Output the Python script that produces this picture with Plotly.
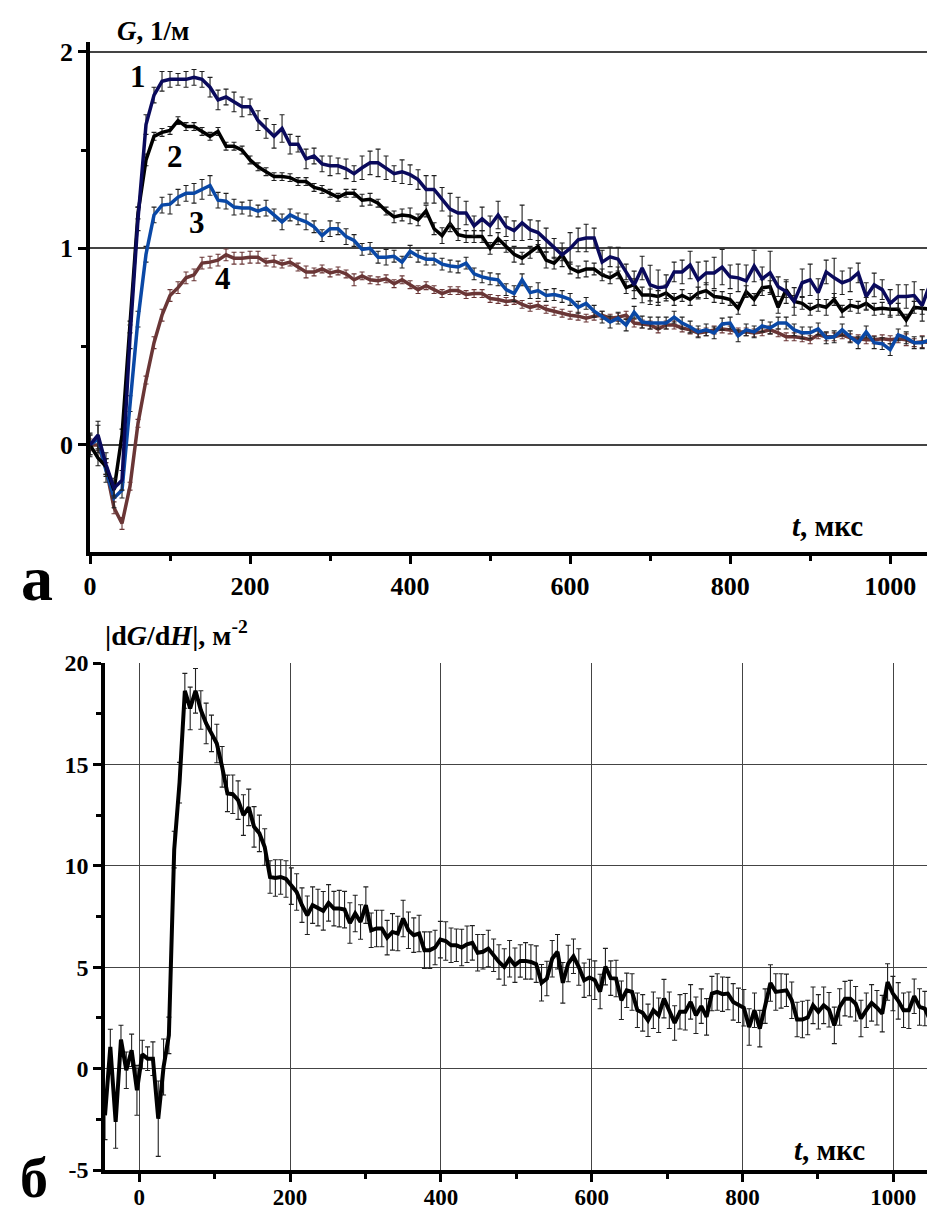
import plotly.graph_objects as go

# ---------------- data: panel a (G, 1/m vs t, us) ----------------
t_a = list(range(0, 1060, 10))

G1 = [0.0, 0.05, -0.10, -0.22, -0.18, 0.55, 1.15, 1.63, 1.78, 1.85,
      1.86, 1.86, 1.86, 1.87, 1.86, 1.82, 1.755, 1.77, 1.745, 1.72,
      1.72, 1.65, 1.61, 1.57, 1.61, 1.53, 1.53, 1.455, 1.47, 1.43,
      1.42, 1.42, 1.405, 1.38, 1.41, 1.435, 1.435, 1.41, 1.38, 1.39,
      1.375, 1.35, 1.30, 1.30, 1.25, 1.20, 1.18, 1.18, 1.115, 1.15,
      1.115, 1.17, 1.11, 1.09, 1.13, 1.095, 1.08, 1.043, 1.00, 0.967,
      1.00, 1.043, 1.053, 1.053, 0.93, 0.957, 0.945, 0.88, 0.814, 0.90,
      0.814, 0.80, 0.805, 0.88, 0.88, 0.915, 0.84, 0.875, 0.875, 0.905,
      0.855, 0.85, 0.835, 0.91, 0.845, 0.875, 0.805, 0.78, 0.73, 0.825,
      0.84, 0.775, 0.88, 0.85, 0.825, 0.84, 0.875, 0.755, 0.814, 0.79,
      0.72, 0.755, 0.755, 0.76, 0.71, 0.82]
E1 = [0.06, 0.07, 0.06, 0.05, 0.05, 0.06, 0.06, 0.05, 0.04, 0.05,
      0.04, 0.03, 0.04, 0.04, 0.04, 0.05, 0.05, 0.04, 0.05, 0.05,
      0.04, 0.05, 0.05, 0.06, 0.07, 0.05, 0.04, 0.05, 0.04, 0.04,
      0.05, 0.04, 0.05, 0.04, 0.06, 0.06, 0.07, 0.06, 0.04, 0.06,
      0.05, 0.05, 0.07, 0.07, 0.06, 0.08, 0.08, 0.06, 0.05, 0.06,
      0.05, 0.07, 0.05, 0.05, 0.09, 0.05, 0.06, 0.06, 0.05, 0.06,
      0.08, 0.06, 0.07, 0.05, 0.06, 0.05, 0.06, 0.04, 0.07, 0.06,
      0.10, 0.09, 0.06, 0.05, 0.06, 0.07, 0.09, 0.06, 0.08, 0.09,
      0.06, 0.07, 0.08, 0.08, 0.06, 0.11, 0.05, 0.06, 0.07, 0.07,
      0.08, 0.07, 0.06, 0.10, 0.06, 0.06, 0.05, 0.07, 0.06, 0.05,
      0.07, 0.06, 0.06, 0.07, 0.08, 0.06]

G2 = [0.0, -0.066, -0.11, -0.23, 0.05, 0.60, 1.18, 1.45, 1.57, 1.59,
      1.60, 1.65, 1.62, 1.62, 1.595, 1.57, 1.595, 1.52, 1.52, 1.50,
      1.45, 1.415, 1.39, 1.365, 1.365, 1.36, 1.34, 1.34, 1.31, 1.30,
      1.28, 1.26, 1.28, 1.28, 1.245, 1.25, 1.23, 1.19, 1.16, 1.17,
      1.165, 1.145, 1.19, 1.10, 1.065, 1.125, 1.07, 1.06, 1.06, 1.06,
      1.00, 1.05, 1.01, 0.97, 0.95, 0.98, 1.01, 0.94, 0.925, 0.967,
      0.90, 0.88, 0.895, 0.895, 0.865, 0.85, 0.875, 0.80, 0.815, 0.763,
      0.763, 0.755, 0.773, 0.74, 0.76, 0.74, 0.773, 0.785, 0.755, 0.75,
      0.74, 0.695, 0.78, 0.74, 0.80, 0.805, 0.70, 0.79, 0.73, 0.72,
      0.69, 0.71, 0.70, 0.74, 0.68, 0.71, 0.70, 0.72, 0.69, 0.695,
      0.69, 0.69, 0.635, 0.70, 0.695, 0.69]
E2 = [0.05, 0.04, 0.04, 0.03, 0.03, 0.03, 0.03, 0.03, 0.02, 0.02,
      0.02, 0.02, 0.02, 0.02, 0.02, 0.02, 0.02, 0.02, 0.02, 0.02,
      0.02, 0.02, 0.02, 0.02, 0.02, 0.02, 0.02, 0.02, 0.02, 0.02,
      0.02, 0.02, 0.02, 0.02, 0.03, 0.03, 0.02, 0.02, 0.03, 0.03,
      0.04, 0.03, 0.03, 0.03, 0.04, 0.04, 0.03, 0.03, 0.03, 0.03,
      0.03, 0.03, 0.03, 0.04, 0.03, 0.03, 0.03, 0.04, 0.03, 0.03,
      0.03, 0.03, 0.04, 0.03, 0.03, 0.03, 0.03, 0.03, 0.03, 0.04,
      0.03, 0.03, 0.04, 0.03, 0.03, 0.03, 0.03, 0.04, 0.03, 0.03,
      0.03, 0.03, 0.03, 0.03, 0.04, 0.03, 0.03, 0.04, 0.03, 0.03,
      0.03, 0.03, 0.04, 0.03, 0.03, 0.03, 0.03, 0.03, 0.03, 0.03,
      0.03, 0.03, 0.03, 0.03, 0.03, 0.03]

G3 = [0.0, 0.03, -0.13, -0.27, -0.23, 0.21, 0.64, 0.97, 1.17, 1.22,
      1.225, 1.26, 1.28, 1.28, 1.30, 1.32, 1.245, 1.24, 1.21, 1.205,
      1.205, 1.19, 1.205, 1.17, 1.135, 1.17, 1.15, 1.135, 1.11, 1.065,
      1.10, 1.10, 1.06, 1.04, 0.995, 1.00, 0.955, 0.955, 0.96, 0.93,
      0.985, 0.96, 0.945, 0.945, 0.92, 0.91, 0.905, 0.925, 0.87, 0.855,
      0.845, 0.84, 0.79, 0.77, 0.84, 0.775, 0.785, 0.76, 0.765, 0.755,
      0.74, 0.70, 0.72, 0.68, 0.65, 0.625, 0.645, 0.61, 0.675, 0.625,
      0.62, 0.62, 0.62, 0.65, 0.62, 0.60, 0.575, 0.585, 0.57, 0.615,
      0.62, 0.555, 0.585, 0.575, 0.605, 0.595, 0.62, 0.62, 0.585, 0.57,
      0.57, 0.59, 0.545, 0.55, 0.585, 0.55, 0.52, 0.575, 0.52, 0.515,
      0.485, 0.56, 0.545, 0.52, 0.52, 0.535]
E3 = [0.05, 0.07, 0.06, 0.05, 0.04, 0.04, 0.04, 0.04, 0.04, 0.04,
      0.05, 0.04, 0.04, 0.05, 0.05, 0.05, 0.04, 0.04, 0.04, 0.03,
      0.04, 0.03, 0.04, 0.03, 0.04, 0.03, 0.03, 0.04, 0.03, 0.03,
      0.04, 0.03, 0.04, 0.03, 0.03, 0.03, 0.03, 0.04, 0.03, 0.03,
      0.03, 0.03, 0.03, 0.03, 0.03, 0.03, 0.03, 0.03, 0.03, 0.03,
      0.03, 0.03, 0.03, 0.04, 0.03, 0.03, 0.04, 0.03, 0.03, 0.03,
      0.03, 0.03, 0.03, 0.03, 0.03, 0.03, 0.03, 0.03, 0.03, 0.03,
      0.03, 0.03, 0.03, 0.03, 0.03, 0.03, 0.03, 0.03, 0.03, 0.03,
      0.03, 0.03, 0.03, 0.03, 0.03, 0.03, 0.03, 0.03, 0.03, 0.03,
      0.03, 0.03, 0.03, 0.03, 0.03, 0.03, 0.03, 0.03, 0.03, 0.03,
      0.03, 0.03, 0.03, 0.03, 0.03, 0.03]

G4 = [0.0, 0.0, -0.12, -0.32, -0.40, -0.21, 0.11, 0.33, 0.52, 0.66,
      0.76, 0.80, 0.85, 0.865, 0.925, 0.93, 0.94, 0.967, 0.95, 0.95,
      0.955, 0.955, 0.93, 0.935, 0.92, 0.93, 0.905, 0.88, 0.88, 0.895,
      0.875, 0.885, 0.87, 0.84, 0.86, 0.84, 0.835, 0.845, 0.82, 0.84,
      0.815, 0.79, 0.81, 0.79, 0.77, 0.785, 0.785, 0.765, 0.77, 0.77,
      0.745, 0.74, 0.73, 0.735, 0.715, 0.70, 0.71, 0.69, 0.68, 0.67,
      0.66, 0.655, 0.645, 0.655, 0.66, 0.645, 0.65, 0.66, 0.62, 0.615,
      0.61, 0.59, 0.61, 0.61, 0.595, 0.585, 0.57, 0.575, 0.585, 0.59,
      0.585, 0.575, 0.575, 0.57, 0.575, 0.585, 0.57, 0.55, 0.55, 0.545,
      0.535, 0.56, 0.55, 0.55, 0.56, 0.545, 0.54, 0.535, 0.535, 0.54,
      0.535, 0.54, 0.535, 0.52, 0.525, 0.52]
E4 = [0.03, 0.03, 0.03, 0.03, 0.03, 0.02, 0.02, 0.02, 0.03, 0.03,
      0.03, 0.03, 0.03, 0.03, 0.03, 0.03, 0.03, 0.03, 0.03, 0.03,
      0.03, 0.03, 0.02, 0.03, 0.02, 0.02, 0.02, 0.03, 0.02, 0.02,
      0.02, 0.02, 0.02, 0.03, 0.02, 0.02, 0.02, 0.02, 0.02, 0.02,
      0.02, 0.02, 0.02, 0.02, 0.02, 0.02, 0.02, 0.02, 0.02, 0.02,
      0.02, 0.02, 0.02, 0.02, 0.02, 0.02, 0.02, 0.02, 0.02, 0.02,
      0.02, 0.02, 0.02, 0.02, 0.02, 0.02, 0.02, 0.02, 0.02, 0.02,
      0.02, 0.02, 0.02, 0.02, 0.02, 0.02, 0.02, 0.02, 0.02, 0.02,
      0.02, 0.02, 0.02, 0.02, 0.02, 0.02, 0.02, 0.02, 0.02, 0.02,
      0.02, 0.02, 0.02, 0.02, 0.02, 0.02, 0.02, 0.02, 0.02, 0.02,
      0.02, 0.02, 0.03, 0.02, 0.03, 0.02]

# ---------------- data: panel b (|dG/dH|, m^-2 vs t, us) ----------------
T_B_START = -45.5
T_B_STEP = 7.06
dGdH = [-2.3, 1.07, -2.63, 1.43, -0.08, 0.9, -1.07, 0.7, 0.49, 0.49,
        -2.47, 0.08, 1.64, 10.8, 14.1, 18.63, 17.76, 18.63, 17.68, 17.02,
        16.53, 16.03, 14.88, 13.57, 13.53, 13.24, 12.5, 12.88, 11.92, 11.6,
        10.93, 9.45, 9.4, 9.45, 9.35, 9.0, 8.71, 8.06, 7.56, 8.06,
        7.94, 7.78, 8.17, 7.89, 7.89, 7.84, 7.18, 7.65, 7.23, 8.06,
        6.82, 6.91, 6.91, 6.46, 6.74, 6.66, 7.40, 6.82, 6.58, 6.66,
        5.84, 5.84, 5.97, 6.36, 6.29, 6.08, 6.08, 5.97, 6.13, 6.2,
        5.71, 5.76, 5.92, 5.59, 5.26, 5.01, 5.42, 5.1, 5.31, 5.31,
        5.26, 5.15, 4.23, 4.44, 5.42, 5.76, 4.23, 5.18, 5.54, 5.01,
        4.36, 4.49, 4.36, 3.8, 5.03, 4.46, 4.44, 3.37, 3.86, 3.78,
        2.88, 2.75, 2.38, 2.88, 2.63, 3.45, 2.88, 2.25, 2.8, 2.8,
        3.29, 2.63, 3.08, 2.55, 3.7, 3.78, 3.67, 3.7, 3.29, 3.12,
        3.0, 2.05, 2.88, 1.97, 3.08, 4.22, 3.78, 3.83, 3.86, 3.37,
        2.42, 2.42, 2.52, 3.12, 2.8, 3.12, 2.9, 2.13, 3.04, 3.45,
        3.45, 3.2, 2.47, 2.88, 3.24, 3.0, 2.71, 4.27, 3.7, 3.34,
        2.88, 2.88, 3.57, 3.04, 2.96, 2.38]
dGdH_err = [1.2, 0.87, 1.3, 0.71, 0.9, 0.8, 1.23, 0.7, 0.58, 0.83,
            1.86, 1.38, 0.9, 0.9, 1.0, 0.86, 1.05, 1.1, 0.95, 1.0,
            0.9, 0.95, 1.0, 0.9, 0.95, 0.95, 1.0, 0.9, 1.0, 0.9,
            0.9, 0.8, 0.9, 0.85, 0.9, 0.9, 0.9, 0.85, 0.95, 0.9,
            0.9, 0.95, 0.9, 0.85, 0.9, 0.9, 1.0, 0.9, 0.85, 0.9,
            0.85, 0.9, 0.9, 0.85, 0.9, 0.85, 0.9, 0.9, 0.85, 0.9,
            0.9, 0.9, 0.85, 0.9, 0.95, 0.85, 0.8, 0.9, 0.9, 0.85,
            0.9, 0.85, 0.9, 0.8, 0.85, 0.9, 0.9, 0.85, 0.8, 0.9,
            0.85, 0.9, 0.9, 0.85, 0.9, 0.85, 1.0, 0.9, 0.85, 0.9,
            0.85, 0.9, 0.95, 0.85, 0.9, 0.85, 0.9, 0.95, 0.85, 0.9,
            0.85, 0.9, 0.8, 0.9, 0.85, 0.95, 0.9, 0.85, 0.85, 0.9,
            0.85, 0.9, 0.85, 0.9, 0.85, 0.9, 0.85, 0.8, 0.9, 0.85,
            0.9, 0.9, 0.85, 0.9, 0.85, 0.9, 0.9, 0.85, 0.8, 0.9,
            0.85, 0.9, 0.85, 0.9, 0.85, 0.9, 0.85, 0.9, 0.9, 0.85,
            0.9, 0.85, 0.9, 0.85, 0.9, 0.85, 0.9, 0.9, 0.85, 0.9,
            0.85, 0.9, 0.85, 0.9, 0.85, 0.9]
t_b = [round(T_B_START + T_B_STEP * k, 2) for k in range(len(dGdH))]

# tick labels
xa_ticks = [0, 200, 400, 600, 800, 1000]
ya_ticks = [0, 1, 2]
xb_ticks = [0, 200, 400, 600, 800, 1000]
yb_ticks = [-5, 0, 5, 10, 15, 20]
yb_ticktext = ["-5", "0", "5", "10", "15", "20"]

# ---------------- figure ----------------
W, H = 927, 1213
SERIF = "Liberation Serif"
NAVY, BLACK, BLUE, BROWN = "#0a0a5c", "#000000", "#0a48a6", "#6a3636"

fig = go.Figure()

series_a = [
    (G4, E4, BROWN, "#6a3636"),
    (G3, E3, BLUE, "#202020"),
    (G2, E2, BLACK, "#202020"),
    (G1, E1, NAVY, "#202020"),
]
for g, e, col, ecol in series_a:
    fig.add_trace(go.Scatter(
        x=t_a[:len(g)], y=g, mode="lines",
        line=dict(color=col, width=3.5),
        error_y=dict(type="data", array=e, color=ecol, thickness=1.1, width=2.5),
        xaxis="x", yaxis="y", showlegend=False))

fig.add_trace(go.Scatter(
    x=t_b, y=dGdH, mode="lines",
    line=dict(color="#000000", width=4),
    error_y=dict(type="data", array=dGdH_err, color="#202020", thickness=1.1, width=2.5),
    xaxis="x2", yaxis="y2", showlegend=False))

tickfont_a = dict(family=SERIF, size=26, color="black")
tickfont_b = dict(family=SERIF, size=24, color="black")


def py2paper(py):
    return 1 - py / H


def bold(v):
    return "<b>%s</b>" % v


common = dict(showline=True, linewidth=3.5, linecolor="black",
              ticks="outside", ticklen=8, tickwidth=2.5, tickcolor="black",
              zeroline=False, automargin=False)

fig.update_layout(
    width=W, height=H,
    margin=dict(l=0, r=0, t=0, b=0, autoexpand=False),
    paper_bgcolor="white", plot_bgcolor="white",
    xaxis=dict(domain=[90 / W, 1], range=[0, 1046], anchor="y",
               tickvals=xa_ticks, ticktext=[bold(v) for v in xa_ticks],
               minor=dict(tickvals=[100, 300, 500, 700, 900], ticklen=5, tickwidth=2.5,
                          tickcolor="black", showgrid=False),
               showgrid=False, tickfont=tickfont_a, **common),
    yaxis=dict(domain=[py2paper(552), py2paper(42)], range=[-0.545, 2.05], anchor="x",
               tickvals=ya_ticks, ticktext=[bold(v) for v in ya_ticks],
               minor=dict(tickvals=[0.5, 1.5], ticklen=5, tickwidth=2.5,
                          tickcolor="black", showgrid=False),
               showgrid=True, gridcolor="#444444", gridwidth=1.5,
               tickfont=tickfont_a, **common),
    xaxis2=dict(domain=[105 / W, 1], range=[-45.5, 1044.6], anchor="y2",
                tickvals=xb_ticks, ticktext=[bold(v) for v in xb_ticks],
                minor=dict(tickvals=[100, 300, 500, 700, 900], ticklen=5, tickwidth=2.5,
                           tickcolor="black", showgrid=False),
                showgrid=True, gridcolor="#444444", gridwidth=1.3,
                ticklabelstandoff=-4,
                tickfont=dict(family=SERIF, size=23, color="black"), **common),
    yaxis2=dict(domain=[py2paper(1170), py2paper(663)], range=[-5, 20], anchor="x2",
                tickvals=yb_ticks, ticktext=[bold(v) for v in yb_ticktext],
                minor=dict(tickvals=[-2.5, 2.5, 7.5, 12.5, 17.5], ticklen=5, tickwidth=2.5,
                           tickcolor="black", showgrid=False),
                showgrid=True, gridcolor="#444444", gridwidth=1.3,
                tickfont=tickfont_b, **common),
)


def label(text, px, py, size):
    fig.add_annotation(text="<b>%s</b>" % text, x=px / W, y=py2paper(py),
                       xref="paper", yref="paper",
                       showarrow=False, xanchor="center", yanchor="middle",
                       font=dict(family=SERIF, size=size, color="black"))


label("<i>G</i>, 1/м", 153, 31, 27)
label("<i>t</i>, мкс", 827, 526, 29)
label("|d<i>G</i>/d<i>H</i>|, м<sup>-2</sup>", 176, 633, 28)
label("<i>t</i>, мкс", 829, 1150, 29)
label("а", 37, 578, 64)
label("б", 34, 1178, 56)
label("1", 138, 77, 31)
label("2", 175, 157, 31)
label("3", 197, 222, 31)
label("4", 223, 278, 31)

fig.write_html("out.html")
